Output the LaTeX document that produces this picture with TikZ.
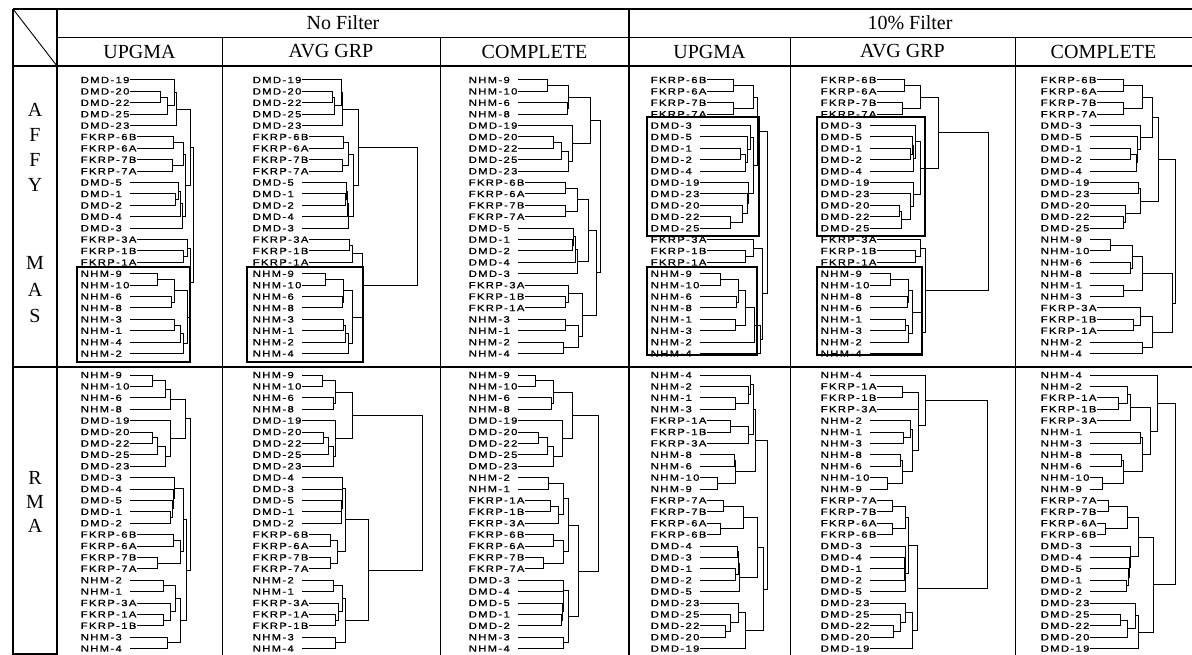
\documentclass[tikz,border=0pt]{standalone}
\usepackage{fontspec}
\setmainfont{Liberation Serif}
\newfontfamily\lf[FakeStretch=1.25,LetterSpace=15,FakeBold=1]{Liberation Sans}

% one dendrogram: prefix, origin (line start of top leaf), leaves, joins (name/upper/lower/x)
\newcommand\tree[4]{\def\tn{#1}\begin{scope}[shift={#2}]
  \foreach \s [count=\i from 0] in {#3} \coordinate (\tn\i) at (0,\i*11.4);
  \foreach \n/\a/\b/\x in {#4}
    \draw[br] (\tn\a) -- (\tn\a -| \x,0) -- coordinate (\tn\n) (\tn\b -| \x,0) -- (\tn\b);
  \foreach \s [count=\i from 0] in {#3} \node[leaf] (\tn\i t) at (-50,\i*11.4) {\s};
  \end{scope}}

\begin{document}
\begin{tikzpicture}[x=1pt,y=-1pt,
  leaf/.style={anchor=west, inner sep=0.6pt, fill=white, font=\lf\fontsize{9}{9}\selectfont},
  br/.style={line width=1pt},
  hd/.style={font=\fontsize{20}{22}\selectfont},
  grp/.style={draw, line width=1.8pt},
  fat/.style={line width=2.4pt},
  thin/.style={line width=0.9pt}]
\useasboundingbox (0,0) rectangle (1192,655);
\fill[white] (0,0) rectangle (1192,655);

% AFFY MAS, no filter
\tree{A}{(130,80)}{DMD-19,DMD-20,DMD-22,DMD-25,DMD-23,FKRP-6B,FKRP-6A,FKRP-7B,FKRP-7A,DMD-5,DMD-1,DMD-2,DMD-4,DMD-3,FKRP-3A,FKRP-1B,FKRP-1A,NHM-9,NHM-10,NHM-6,NHM-8,NHM-3,NHM-1,NHM-4,NHM-2}
{m1/1/2/30, m2/m1/3/37, m3/0/m2/44, m4/m3/4/46, m5/5/6/43, m6/7/8/42, m7/m5/m6/53,
  m8/10/11/45, m9/9/m8/48, m10/m9/12/50, m11/m10/13/52, m12/m7/m11/55, m13/m4/m12/60,
  m14/15/16/53, m15/14/m14/57, m16/17/18/27, m17/19/20/41, m18/m16/m17/44, m19/21/22/44,
  m20/m19/23/50, m21/m20/24/53, m22/m18/m21/57, m23/m15/m22/60, m24/m13/m23/63}

\tree{B}{(302,80)}{DMD-19,DMD-20,DMD-22,DMD-25,DMD-23,FKRP-6B,FKRP-6A,FKRP-7B,FKRP-7A,DMD-5,DMD-1,DMD-2,DMD-4,DMD-3,FKRP-3A,FKRP-1B,FKRP-1A,NHM-9,NHM-10,NHM-6,NHM-8,NHM-3,NHM-1,NHM-2,NHM-4}
{m1/1/2/30, m2/m1/3/32, m3/0/m2/39, m4/m3/4/40, m5/5/6/41, m6/7/8/40, m7/m5/m6/46,
  m8/10/11/43, m9/9/m8/44, m10/m9/12/45, m11/m10/13/46, m12/m7/m11/51, m13/m4/m12/56,
  m14/14/15/47, m15/m14/16/50, m16/17/18/23, m17/19/20/40, m18/m16/m17/41, m19/21/22/41,
  m20/m19/23/43, m21/m20/24/46, m22/m18/m21/50, m23/m15/m22/60, m24/m13/m23/115}

\tree{C}{(518,80)}{NHM-9,NHM-10,NHM-6,NHM-8,DMD-19,DMD-20,DMD-22,DMD-25,DMD-23,FKRP-6B,FKRP-6A,FKRP-7B,FKRP-7A,DMD-5,DMD-1,DMD-2,DMD-4,DMD-3,FKRP-3A,FKRP-1B,FKRP-1A,NHM-3,NHM-1,NHM-2,NHM-4}
{m1/0/1/29, m2/2/3/49, m3/m1/m2/50, m4/5/6/35, m5/m4/7/43, m6/m5/8/50, m7/4/m6/54,
  m8/m3/m7/72, m9/9/10/47, m10/11/12/47, m11/m9/m10/59, m12/14/15/54, m13/13/m12/55,
  m14/m13/16/57, m15/m14/17/59, m16/m11/m15/70, m17/19/20/47, m18/18/m17/50, m19/21/22/47,
  m20/23/24/45, m21/m19/m20/60, m22/m18/m21/64, m23/m16/m22/78, m24/m8/m23/82}

% AFFY MAS, 10% filter
\tree{D}{(700,80)}{FKRP-6B,FKRP-6A,FKRP-7B,FKRP-7A,DMD-3,DMD-5,DMD-1,DMD-2,DMD-4,DMD-19,DMD-23,DMD-20,DMD-22,DMD-25,FKRP-3A,FKRP-1B,FKRP-1A,NHM-9,NHM-10,NHM-6,NHM-8,NHM-1,NHM-3,NHM-2,NHM-4}
{m1/0/1/33, m2/2/3/33, m3/m1/m2/53, m4/6/7/40, m5/m4/8/45, m6/5/m5/47, m7/4/m6/50,
  m8/12/13/30, m9/11/m8/42, m10/10/m9/47, m11/9/m10/48, m12/m7/m11/53, m13/m3/m12/57,
  m14/15/16/45, m15/14/m14/53, m16/17/18/20, m17/19/20/36, m18/m16/m17/38, m19/21/22/35,
  m20/m18/m19/45, m21/m20/23/54, m22/m21/24/60, m23/m15/m22/62, m24/m13/m23/67}

\tree{E}{(870,80)}{FKRP-6B,FKRP-6A,FKRP-7B,FKRP-7A,DMD-3,DMD-5,DMD-1,DMD-2,DMD-4,DMD-19,DMD-23,DMD-20,DMD-22,DMD-25,FKRP-3A,FKRP-1B,FKRP-1A,NHM-9,NHM-10,NHM-8,NHM-6,NHM-1,NHM-3,NHM-2,NHM-4}
{m1/0/1/34, m2/2/3/32, m3/m1/m2/50, m4/6/7/40, m5/5/m4/42, m6/m5/8/43, m7/4/m6/45,
  m8/11/12/29, m9/m8/13/31, m10/10/m9/40, m11/9/m10/43, m12/m7/m11/50, m13/m3/m12/68,
  m14/15/16/45, m15/14/m14/50, m16/17/18/20, m17/19/20/37, m18/m16/m17/38, m19/21/22/35,
  m20/m19/23/38, m21/m18/m20/42, m22/m21/24/52, m23/m15/m22/55, m24/m13/m23/118}

\tree{F}{(1090,80)}{FKRP-6B,FKRP-6A,FKRP-7B,FKRP-7A,DMD-3,DMD-5,DMD-1,DMD-2,DMD-4,DMD-19,DMD-23,DMD-20,DMD-22,DMD-25,NHM-9,NHM-10,NHM-6,NHM-8,NHM-1,NHM-3,FKRP-3A,FKRP-1B,FKRP-1A,NHM-2,NHM-4}
{m1/0/1/33, m2/2/3/33, m3/m1/m2/52, m4/6/7/40, m5/m4/8/46, m6/5/m5/47, m7/4/m6/50,
  m8/m3/m7/62, m9/12/13/33, m10/11/m9/35, m11/9/10/48, m12/m11/m10/50, m13/m8/m12/68,
  m14/14/15/20, m15/16/17/40, m16/m14/m15/42, m17/18/19/33, m18/m16/m17/52,
  m19/21/22/43, m20/20/m19/50, m21/23/24/52, m22/m20/m21/62, m23/m18/m22/82, m24/m13/m23/85}

% RMA, no filter
\tree{G}{(130,375)}{NHM-9,NHM-10,NHM-6,NHM-8,DMD-19,DMD-20,DMD-22,DMD-25,DMD-23,DMD-3,DMD-4,DMD-5,DMD-1,DMD-2,FKRP-6B,FKRP-6A,FKRP-7B,FKRP-7A,NHM-2,NHM-1,FKRP-3A,FKRP-1A,FKRP-1B,NHM-3,NHM-4}
{m1/0/1/22, m2/m1/2/35, m3/m2/3/40, m4/5/6/22, m5/m4/7/27, m6/m5/8/35, m7/4/m6/40,
  m8/m3/m7/55, m9/12/13/40, m10/11/m9/42, m11/10/m10/43, m12/9/m11/44, m13/14/15/43,
  m14/16/17/27, m15/m13/m14/50, m16/m12/m15/53, m17/18/19/33, m18/21/22/33, m19/20/m18/40,
  m20/m17/m19/45, m21/23/24/37, m22/m20/m21/50, m23/m16/m22/56, m24/m8/m23/60}

\tree{H}{(302,375)}{NHM-9,NHM-10,NHM-6,NHM-8,DMD-19,DMD-20,DMD-22,DMD-25,DMD-23,DMD-4,DMD-3,DMD-5,DMD-1,DMD-2,FKRP-6B,FKRP-6A,FKRP-7B,FKRP-7A,NHM-2,NHM-1,FKRP-3A,FKRP-1A,FKRP-1B,NHM-3,NHM-4}
{m1/0/1/20, m2/2/3/31, m3/m1/m2/33, m4/5/6/21, m5/m4/7/26, m6/m5/8/31, m7/4/m6/33,
  m8/m3/m7/50, m9/12/13/39, m10/11/m9/39.5, m11/10/m10/40, m12/9/m11/40.5, m13/14/15/28,
  m14/16/17/28, m15/m13/m14/35, m16/m12/m15/43, m17/18/19/31, m18/21/22/33, m19/20/m18/36,
  m20/m17/m19/40, m21/23/24/33, m22/m20/m21/43, m23/m16/m22/66, m24/m8/m23/120}

\tree{I}{(518,375)}{NHM-9,NHM-10,NHM-6,NHM-8,DMD-19,DMD-20,DMD-22,DMD-25,DMD-23,NHM-2,NHM-1,FKRP-1A,FKRP-1B,FKRP-3A,FKRP-6B,FKRP-6A,FKRP-7B,FKRP-7A,DMD-3,DMD-4,DMD-5,DMD-1,DMD-2,NHM-3,NHM-4}
{m1/0/1/17, m2/2/3/33, m3/m1/m2/35, m4/5/6/20, m5/m4/7/29, m6/m5/8/35, m7/4/m6/44,
  m8/m3/m7/54, m9/9/10/30, m10/11/12/32, m11/m10/13/40, m12/m9/m11/45, m13/14/15/35,
  m14/16/17/25, m15/m13/m14/45, m16/m12/m15/50, m17/21/22/43, m18/20/m17/44, m19/19/m18/45,
  m20/18/m19/45.5, m21/23/24/45, m22/m20/m21/50, m23/m16/m22/60, m24/m8/m23/80}

% RMA, 10% filter
\tree{J}{(700,375)}{NHM-4,NHM-2,NHM-1,NHM-3,FKRP-1A,FKRP-1B,FKRP-3A,NHM-8,NHM-6,NHM-10,NHM-9,FKRP-7A,FKRP-7B,FKRP-6A,FKRP-6B,DMD-4,DMD-3,DMD-1,DMD-2,DMD-5,DMD-23,DMD-25,DMD-22,DMD-20,DMD-19}
{m1/2/3/35, m2/1/m1/48, m3/0/m2/50, m4/4/5/30, m5/m4/6/48, m6/m3/m5/53, m7/7/8/34,
  m8/9/10/17, m9/m7/m8/35, m10/m6/m9/55, m11/11/12/23, m12/13/14/20, m13/m11/m12/43,
  m14/17/18/35, m15/15/16/37, m16/m15/m14/38, m17/m16/19/39, m18/m13/m17/57,
  m19/22/23/25, m20/21/m19/30, m21/20/m20/38, m22/m21/24/45, m23/m18/m22/63, m24/m10/m23/67}

\tree{K}{(870,375)}{NHM-4,FKRP-1A,FKRP-1B,FKRP-3A,NHM-2,NHM-1,NHM-3,NHM-8,NHM-6,NHM-10,NHM-9,FKRP-7A,FKRP-7B,FKRP-6A,FKRP-6B,DMD-3,DMD-4,DMD-1,DMD-2,DMD-5,DMD-23,DMD-25,DMD-22,DMD-20,DMD-19}
{m1/1/2/32, m2/m1/3/48, m3/5/6/33, m4/4/m3/40, m5/7/8/30, m6/9/10/17, m7/m5/m6/32,
  m8/m4/m7/42, m9/m2/m8/48, m10/0/m9/55, m11/11/12/22, m12/13/14/22, m13/m11/m12/35,
  m14/17/18/34, m15/16/m14/34.5, m16/15/m15/35, m17/m16/19/35.5, m18/m13/m17/38,
  m19/22/23/23, m20/21/m19/30, m21/20/m20/35, m22/m21/24/42, m23/m18/m22/47, m24/m10/m23/117}

\tree{L}{(1090,375)}{NHM-4,NHM-2,FKRP-1A,FKRP-1B,FKRP-3A,NHM-1,NHM-3,NHM-8,NHM-6,NHM-10,NHM-9,FKRP-7A,FKRP-7B,FKRP-6A,FKRP-6B,DMD-3,DMD-4,DMD-5,DMD-1,DMD-2,DMD-23,DMD-25,DMD-22,DMD-20,DMD-19}
{m1/2/3/28, m2/1/m1/37, m3/m2/4/40, m4/5/6/50, m5/7/8/31, m6/9/10/12, m7/m5/m6/33,
  m8/m4/m7/52, m9/m3/m8/60, m10/0/m9/67, m11/11/12/18, m12/13/14/15, m13/m11/m12/37,
  m14/18/19/36, m15/17/m14/38, m16/16/m15/39, m17/15/m16/40, m18/m13/m17/48,
  m19/21/22/30, m20/m19/23/37, m21/20/m20/45, m22/m21/24/48, m23/m18/m22/63, m24/m10/m23/85}

% boxed groups
\draw[grp] (77,267) rectangle (190,362);
\draw[grp] (247,267) rectangle (363,362);
\draw[grp] (647,117) rectangle (759,236);
\draw[grp] (647,267) rectangle (757,355);
\draw[grp] (817,117) rectangle (925,236);
\draw[grp] (817,267) rectangle (922,355);

% table
\draw[fat] (13,9) -- (1192,9);
\draw[thin] (57,37) -- (1192,37);
\draw[fat] (13,66) -- (1192,66);
\draw[fat] (13,367) -- (1192,367);
\draw[fat] (13,9) -- (13,655);
\draw[fat] (57,9) -- (57,655);
\draw[fat] (629,9) -- (629,655);
\foreach \cx in {222,440,790,1015} \draw[thin] (\cx,37) -- (\cx,655);
\draw[thin] (13,9) -- (57,66);
\draw[fat] (13,654) -- (57,654);

\node[hd] (nf) at (343,23) {No Filter};
\node[hd] (tf) at (910,23) {10\% Filter};
\node[hd] (h1) at (139.5,51.5) {UPGMA};
\node[hd] (h2) at (331,51.5) {AVG GRP};
\node[hd] (h3) at (534.5,51.5) {COMPLETE};
\node[hd] (h4) at (709.5,51.5) {UPGMA};
\node[hd] (h5) at (902.5,51.5) {AVG GRP};
\node[hd] (h6) at (1103.5,51.5) {COMPLETE};

\foreach \c/\ry [count=\k] in {A/110,F/135,F/160,Y/185,M/263,A/290,S/316,R/478,M/502,A/526}
  \node[hd] (rl\k) at (35,\ry) {\c};
\end{tikzpicture}
\end{document}
